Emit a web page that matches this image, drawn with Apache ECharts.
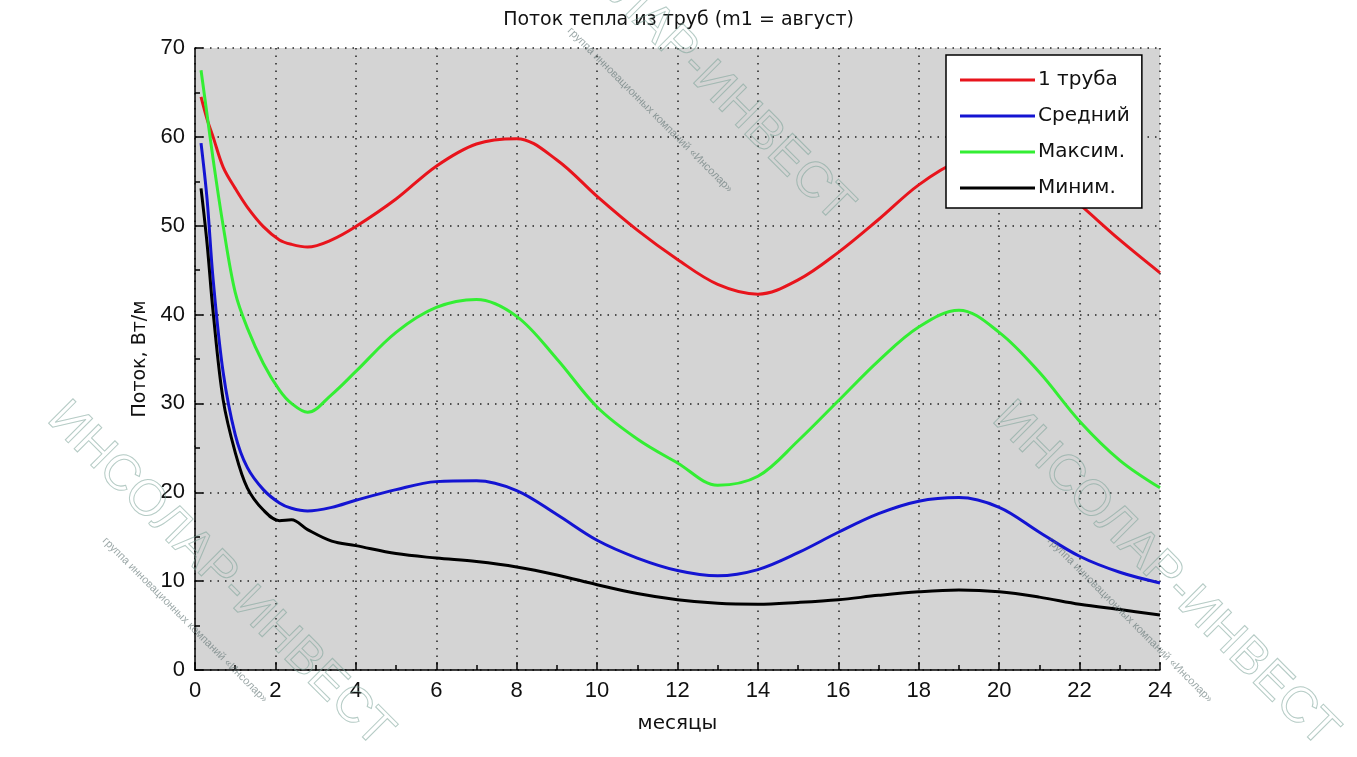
<!DOCTYPE html>
<html lang="ru">
<head>
    <meta charset="utf-8">
    <title>Поток тепла из труб</title>
    <style>
        html, body { margin: 0; padding: 0; background: #fff; }
    </style>
</head>
<body>
    <div id="main" style="width:1357px;height:757px;"></div>
    <script src="https://cdn.jsdelivr.net/npm/echarts@6/dist/echarts.min.js"></script>
    <script type="text/javascript">
        // месяцы (ось X)
        var months = [0.15, 0.3, 0.45, 0.7, 1.0, 1.3, 1.7, 2.1, 2.4, 2.8, 3.4, 4, 5, 6, 7, 8, 9, 10,
                      11, 12, 13, 14, 15, 16, 17, 18, 19, 20, 21, 22, 23, 24];
        var pipe1   = [64.5, 62, 60, 56.6, 54.2, 52.1, 49.9, 48.4, 47.9, 47.6, 48.4, 49.9, 53, 56.7, 59.2, 59.8, 57.4, 53.3,
                       49.5, 46.2, 43.4, 42.3, 43.9, 47, 50.7, 54.6, 57.3, 58.2, 56.2, 52.4, 48.4, 44.7];
        var average = [59.3, 53, 44, 33.5, 26.5, 22.8, 20.3, 18.8, 18.2, 17.9, 18.3, 19.1, 20.3, 21.2, 21.3, 20.2, 17.5, 14.6,
                       12.6, 11.2, 10.6, 11.3, 13.2, 15.5, 17.6, 19, 19.4, 18.3, 15.5, 12.8, 11, 9.8];
        var maximum = [67.5, 62.5, 57.5, 50, 42.5, 38.5, 34.5, 31.5, 30, 29, 31, 33.6, 38, 40.8, 41.7, 39.8, 35, 29.6,
                       26, 23.3, 20.8, 21.8, 25.8, 30.3, 34.8, 38.6, 40.5, 38, 33.5, 28, 23.6, 20.5];
        var minimum = [54.2, 48, 40.3, 30.4, 24.5, 20.5, 18, 16.8, 16.9, 15.8, 14.5, 14, 13.1, 12.6, 12.2, 11.6, 10.7, 9.6,
                       8.6, 7.9, 7.5, 7.4, 7.6, 7.9, 8.4, 8.8, 9, 8.8, 8.2, 7.4, 6.8, 6.2];

        var seriesNames = ['1 труба', 'Средний', 'Максим.', 'Миним.'];
        var seriesValues = [pipe1, average, maximum, minimum];
        var seriesColors = ['#e8141c', '#1414d2', '#33ee33', '#000000'];

        var myChart = echarts.init(document.getElementById('main'));
        var font = 'DejaVu Sans';
        var numFont = 'Liberation Sans';

        // пары [x, y] для каждой линии
        var series = seriesValues.map(function (vals, i) {
            return {
                name: seriesNames[i],
                type: 'line',
                data: months.map(function (m, k) { return [m, vals[k]]; }),
                smooth: 0.35,
                showSymbol: false,
                lineStyle: { color: seriesColors[i], width: 3 },
                itemStyle: { color: seriesColors[i] },
                z: 3
            };
        });

        // водяной знак
        function mark(x, y) {
            return {
                type: 'text',
                x: x, y: y,
                rotation: -Math.PI / 4,
                silent: true,
                z: 10,
                style: {
                    text: 'ИНСОЛАР-ИНВЕСТ',
                    font: '50px "Liberation Sans"',
                    fill: 'none',
                    stroke: 'rgba(120,160,150,0.55)',
                    lineWidth: 1,
                    align: 'center',
                    verticalAlign: 'middle'
                }
            };
        }
        function smallMark(x, y) {
            return {
                type: 'text',
                x: x, y: y,
                rotation: -Math.PI / 4,
                silent: true,
                z: 10,
                style: {
                    text: 'группа инновационных компаний «Инсолар»',
                    font: '11px "Liberation Sans"',
                    fill: 'rgba(90,110,110,0.6)',
                    align: 'center',
                    verticalAlign: 'middle'
                }
            };
        }

        var option = {
            backgroundColor: '#ffffff',
            animation: false,
            title: {
                text: 'Поток тепла из труб (m1 = август)',
                left: 'center',
                top: 6,
                textStyle: { fontFamily: font, fontSize: 19, fontWeight: 'normal', color: '#111' }
            },
            legend: {
                orient: 'vertical',
                left: 946,
                top: 55,
                padding: [15, 12, 10, 14],
                itemWidth: 75,
                itemHeight: 3,
                itemGap: 16,
                icon: 'rect',
                backgroundColor: '#ffffff',
                borderColor: '#000',
                borderWidth: 1.5,
                borderRadius: 0,
                textStyle: { fontFamily: font, fontSize: 20, color: '#111', lineHeight: 20, padding: [0, 0, 0, -2] },
                data: seriesNames
            },
            grid: {
                left: 195,
                right: 197,
                top: 48,
                bottom: 87,
                show: true,
                backgroundColor: '#d4d4d4',
                borderWidth: 0
            },
            xAxis: {
                type: 'value',
                min: 0,
                max: 24,
                interval: 2,
                name: 'месяцы',
                nameLocation: 'middle',
                nameGap: 44,
                nameTextStyle: { fontFamily: font, fontSize: 20, color: '#111' },
                axisLine: { lineStyle: { color: '#000', width: 1.5 } },
                axisTick: { inside: true, length: 8, lineStyle: { color: '#000', width: 1.5 } },
                minorTick: { show: true, splitNumber: 2, length: 5, lineStyle: { color: '#000', width: 1.5 } },
                axisLabel: { fontFamily: numFont, fontSize: 22, color: '#111', margin: 10 },
                splitLine: { show: true, lineStyle: { color: '#222', width: 1.5, type: [1.5, 6] } }
            },
            yAxis: {
                type: 'value',
                min: 0,
                max: 70,
                interval: 10,
                name: 'Поток, Вт/м',
                nameLocation: 'middle',
                nameGap: 40,
                nameTextStyle: { fontFamily: font, fontSize: 19, color: '#111' },
                axisLine: { show: true, lineStyle: { color: '#000', width: 1.5 } },
                axisTick: { show: true, inside: true, length: 8, lineStyle: { color: '#000', width: 1.5 } },
                minorTick: { show: true, splitNumber: 2, length: 5, lineStyle: { color: '#000', width: 1.5 } },
                axisLabel: { fontFamily: numFont, fontSize: 22, color: '#111', margin: 10 },
                splitLine: { show: true, lineStyle: { color: '#222', width: 1.5, type: [1.5, 6] } }
            },
            graphic: [
                mark(680, 50),
                smallMark(650, 110),
                mark(220, 575),
                smallMark(185, 620),
                mark(1165, 575),
                smallMark(1130, 620)
            ],
            series: series
        };
        myChart.setOption(option);
    </script>
</body>
</html>
